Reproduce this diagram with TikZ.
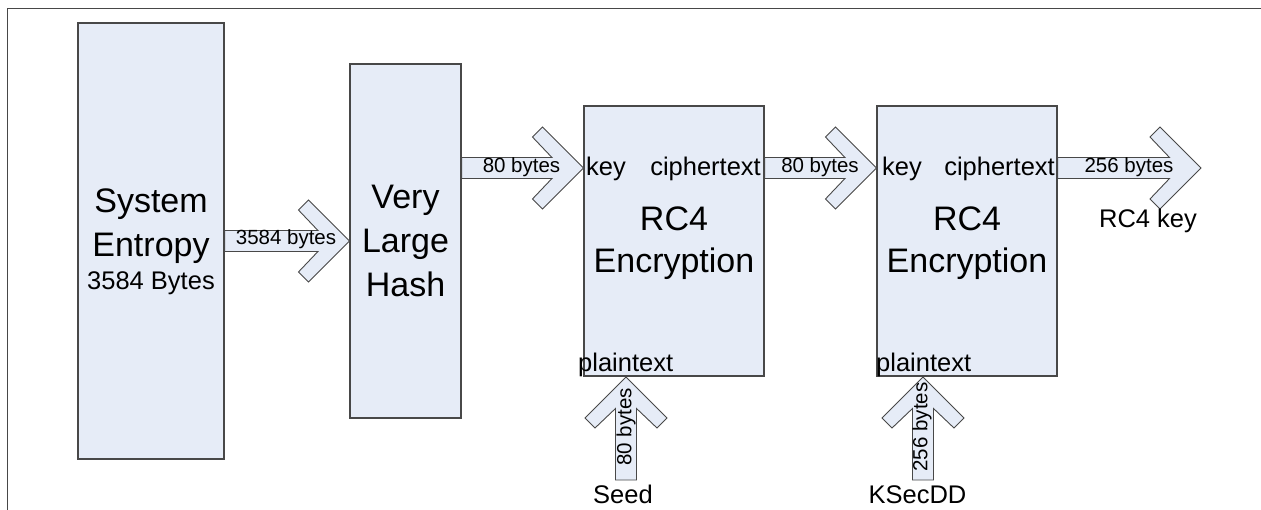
\documentclass[tikz,border=0pt]{standalone}
\usepackage{fontspec}
\setmainfont{Liberation Sans}
\usetikzlibrary{calc}
\definecolor{boxfill}{RGB}{230,236,247}
\definecolor{edgecol}{RGB}{72,72,72}
\newcommand\harrow[2]{%
  \path[blockarrow] let \p1=(#1), \p2=(#2) in
    (\x1,\y1+10.5pt) -- (\x2-31.5pt,\y1+10.5pt) -- (\x2-51pt,\y1+31pt) -- (\x2-41pt,\y1+41pt)
    -- (\x2,\y1) -- (\x2-41pt,\y1-41pt) -- (\x2-51pt,\y1-31pt) -- (\x2-31.5pt,\y1-10.5pt)
    -- (\x1,\y1-10.5pt) -- cycle;}
\newcommand\varrow[2]{%
  \path[blockarrow] let \p1=(#1), \p2=(#2) in
    (\x1-10.5pt,\y1) -- (\x1-10.5pt,\y2-31.5pt) -- (\x1-31pt,\y2-51pt) -- (\x1-41pt,\y2-41pt)
    -- (\x1,\y2) -- (\x1+41pt,\y2-41pt) -- (\x1+31pt,\y2-51pt) -- (\x1+10.5pt,\y2-31.5pt)
    -- (\x1+10.5pt,\y1) -- cycle;}
\begin{document}
\begin{tikzpicture}[x=1pt,y=-1pt,
  blk/.style={draw=edgecol,fill=boxfill,line width=1.1pt,inner sep=0pt,rectangle},
  blockarrow/.style={draw=edgecol,fill=boxfill,line width=0.9pt,line join=miter},
  bigtxt/.style={font=\fontsize{34}{40}\selectfont,inner sep=0pt},
  midtxt/.style={font=\fontsize{25.5}{30}\selectfont,inner sep=0pt},
  smalltxt/.style={font=\fontsize{20.5}{24}\selectfont,inner sep=0pt}]
\useasboundingbox (0,0) rectangle (1261,510);
\draw[edgecol,line width=1pt] (7,510) -- (7,9) -- (1261,9);
% boxes
\node[blk,minimum width=146pt,minimum height=436pt] (ent) at (151,241) {};
\node[blk,minimum width=111pt,minimum height=354pt] (hash) at (405.5,241) {};
\node[blk,minimum width=180pt,minimum height=270pt] (rc1) at (674,241) {};
\node[blk,minimum width=180pt,minimum height=270pt] (rc2) at (967,241) {};
% ports
\coordinate (h1) at (hash.east |- 0,168);
\coordinate (k1) at (rc1.west |- 0,168);
\coordinate (c1) at (rc1.east |- 0,168);
\coordinate (k2) at (rc2.west |- 0,168);
\coordinate (c2) at (rc2.east |- 0,168);
\coordinate (out) at (1201,168);
\coordinate (p1) at (626,377);
\coordinate (p2) at (923,377);
\coordinate (s1) at (626,480);
\coordinate (s2) at (923,480);
% arrows
\harrow{ent.east}{hash.west}
\harrow{h1}{k1}
\harrow{c1}{k2}
\harrow{c2}{out}
\varrow{s1}{p1}
\varrow{s2}{p2}
% texts
\node[bigtxt,anchor=base] (t1) at (151,213) {System};
\node[bigtxt,anchor=base] (t2) at (151,257) {Entropy};
\node[midtxt,anchor=base] (t3) at (151,290) {3584 Bytes};
\node[bigtxt,anchor=base] (t4) at (405.5,209) {Very};
\node[bigtxt,anchor=base] (t5) at (405.5,253) {Large};
\node[bigtxt,anchor=base] (t6) at (405.5,297) {Hash};
\node[bigtxt,anchor=base] (t7) at (674,231) {RC4};
\node[bigtxt,anchor=base] (t8) at (674,273) {Encryption};
\node[bigtxt,anchor=base] (t9) at (967,231) {RC4};
\node[bigtxt,anchor=base] (t10) at (967,273) {Encryption};
\node[midtxt,anchor=base west] (kl1) at (586,176) {key};
\node[midtxt,anchor=base east] (cl1) at (761,176) {ciphertext};
\node[midtxt,anchor=base west] (pl1) at (578,372) {plaintext};
\node[midtxt,anchor=base west] (kl2) at (882,176) {key};
\node[midtxt,anchor=base east] (cl2) at (1055,176) {ciphertext};
\node[midtxt,anchor=base west] (pl2) at (876,372) {plaintext};
\node[midtxt,anchor=base] (seed) at (623,503) {Seed};
\node[midtxt,anchor=base] (ksec) at (917.5,503) {KSecDD};
\node[midtxt,anchor=base] (rk) at (1148,228) {RC4 key};
\node[smalltxt,anchor=base] (a1) at (286,245) {3584 bytes};
\node[smalltxt,anchor=base] (a2) at (521.5,173) {80 bytes};
\node[smalltxt,anchor=base] (a3) at (820,173) {80 bytes};
\node[smalltxt,anchor=base] (a4) at (1129,173) {256 bytes};
\node[smalltxt,rotate=90] (a5) at (626,427) {80 bytes};
\node[smalltxt,rotate=90] (a6) at (922,427) {256 bytes};
\end{tikzpicture}
\end{document}
